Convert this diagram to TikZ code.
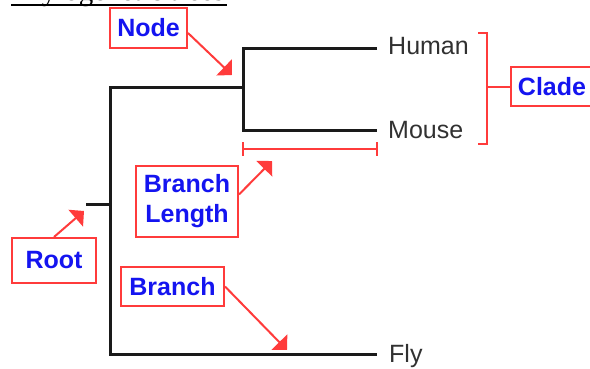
\documentclass[tikz,border=0pt]{standalone}
\usepackage{fontspec}
\setmainfont{Liberation Serif}
\setsansfont{Liberation Sans}
\usetikzlibrary{arrows.meta}
\definecolor{annred}{HTML}{FF3B3B}
\definecolor{annblue}{HTML}{1414F0}
\definecolor{treeblack}{HTML}{1A1A1A}
\begin{document}
\begin{tikzpicture}[x=1pt,y=-1pt,
  treeline/.style={draw=treeblack,line width=3pt},
  taxon/.style={anchor=base west,inner sep=0pt,font=\sffamily\fontsize{25}{30}\selectfont,text=treeblack!90},
  annbox/.style={draw=annred,line width=2pt,fill=white,inner sep=0pt,
     font=\sffamily\bfseries\fontsize{25}{30}\selectfont,text=annblue,align=center},
  annline/.style={draw=annred,line width=2pt},
  annarrow/.style={annline,-{Triangle[length=11pt,width=22pt]}}]
\useasboundingbox (0,0) rectangle (590,369);
\clip (0,0) rectangle (590,369);
% title (mostly cropped, as in the reference)
\node[anchor=base west,inner sep=0pt,font=\fontsize{29}{34}\selectfont] (title) at (11,0.5) {Phylogenetic trees};
\draw[line width=1.5pt] (11,5) coordinate (ul1) -- (227,5) coordinate (ul2);
% tree coordinates
\coordinate (rootstub) at (86,204);
\coordinate (rootv) at (110,204);
\coordinate (vtop) at (110,88);
\coordinate (vbot) at (110,354);
\coordinate (inner) at (243,88);
\coordinate (itop) at (243,49);
\coordinate (ibot) at (243,131);
\coordinate (hleaf) at (377,49);
\coordinate (mleaf) at (377,131);
\coordinate (fleaf) at (377,354);
\draw[treeline] (rootstub) -- (rootv);
\draw[treeline] (inner) -- (vtop) -- (vbot) -- (fleaf);
\draw[treeline] (hleaf) -- (itop) -- (ibot) -- (mleaf);
% taxa
\node[taxon] (human) at (388,55) {Human};
\node[taxon] (mouse) at (388,139) {Mouse};
\node[taxon] (fly) at (389,362) {Fly};
% clade bracket
\coordinate (bt1) at (478,33);
\coordinate (bt2) at (487,33);
\coordinate (bb1) at (478,144);
\coordinate (bb2) at (487,144);
\coordinate (bm) at (487,87);
\draw[annline] (bt1) -- (bt2) -- (bb2) -- (bb1);
\node[annbox,minimum width=100pt,minimum height=39pt,anchor=west] (clade) at (510,87) {\hspace*{-18pt}Clade};
\draw[annline] (bm) -- (clade.west);
% branch length bar
\coordinate (bl1) at (243,149);
\coordinate (bl2) at (377,149);
\draw[annline] (bl1) -- (bl2);
\draw[annline] ([yshift=-7pt]bl1) -- ([yshift=7pt]bl1);
\draw[annline] ([yshift=-7pt]bl2) -- ([yshift=7pt]bl2);
% annotation boxes
\node[annbox,minimum width=77pt,minimum height=40pt] (nodebox) at (148.5,28) {Node};
\node[annbox,minimum width=102pt,minimum height=71pt] (blbox) at (187,201.5) {Branch\\Length};
\node[annbox,minimum width=84pt,minimum height=45pt] (rootbox) at (54,260.5) {Root};
\node[annbox,minimum width=103pt,minimum height=39pt] (brbox) at (172.5,286.5) {Branch};
% arrow tips
\coordinate (nodetip) at (232,75);
\coordinate (bltip) at (272,161);
\coordinate (roottip) at (84,211);
\coordinate (brtip) at (287,350);
\draw[annarrow] ([yshift=-5pt]nodebox.east) -- (nodetip);
\draw[annarrow] ([yshift=7pt]blbox.east) -- (bltip);
\draw[annarrow] (rootbox.north) -- (roottip);
\draw[annarrow] (brbox.east) -- (brtip);
\end{tikzpicture}
\end{document}
